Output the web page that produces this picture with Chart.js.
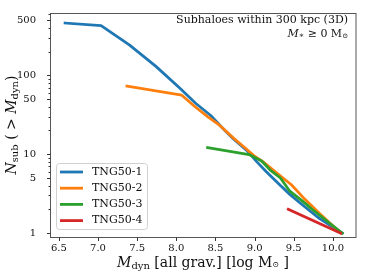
<!DOCTYPE html>
<html>
<head>
<meta charset="utf-8">
<script src="https://cdn.jsdelivr.net/npm/chart.js@4"></script>
<style>
  html, body { margin: 0; padding: 0; background: #fff; }
</style>
</head>
<body>
<canvas id="myChart" width="365" height="278"></canvas>
<script>
const seriesNames = ['TNG50-1', 'TNG50-2', 'TNG50-3', 'TNG50-4'];
const seriesColors = ['#1f77b4', '#ff7f0e', '#2ca02c', '#d62728'];

// log M_dyn and N_sub(>M_dyn)
const tng1X = [6.58, 7.04, 7.40, 7.74, 8.05, 8.25, 8.44, 8.58, 8.73, 8.90, 9.03, 9.15, 9.32, 9.45, 9.62, 9.83, 10.12];
const tng1Y = [460, 428, 243, 130, 68, 44, 31, 22, 15.6, 11.2, 8.0, 6.0, 4.1, 3.1, 2.24, 1.53, 1];
const tng2X = [7.37, 8.07, 8.24, 8.40, 8.56, 8.73, 8.88, 8.99, 9.11, 9.28, 9.47, 9.64, 9.83, 10.10];
const tng2Y = [73, 56, 40, 30, 23, 16, 12, 9.6, 8, 5.8, 4.1, 2.7, 1.77, 1];
const tng3X = [8.40, 8.93, 9.09, 9.20, 9.33, 9.45, 9.60, 9.75, 10.12];
const tng3Y = [12.1, 9.9, 8.2, 6.3, 5.0, 3.4, 2.6, 1.95, 1];
const tng4X = [9.43, 10.10];
const tng4Y = [2, 1];

const xTicks = [6.5, 7.0, 7.5, 8.0, 8.5, 9.0, 9.5, 10.0];
const yTicks = [1, 2, 3, 4, 5, 6, 7, 8, 9, 10, 20, 30, 40, 50, 60, 70, 80, 90, 100, 200, 300, 400, 500, 600];
const yLabels = [1, 5, 10, 50, 100, 500];

const xs = [tng1X, tng2X, tng3X, tng4X];
const ys = [tng1Y, tng2Y, tng3Y, tng4Y];

const SERIF = "'DejaVu Serif', serif";

// draw a run of text pieces with different fonts / offsets
function richText(ctx, parts, x, y, align) {
  let w = 0;
  parts.forEach(p => { ctx.font = p.font; p.w = ctx.measureText(p.t).width; w += p.w; });
  let cx = align === 'right' ? x - w : align === 'center' ? x - w / 2 : x;
  ctx.textAlign = 'left';
  ctx.textBaseline = 'middle';
  parts.forEach(p => {
    ctx.font = p.font;
    ctx.fillText(p.t, cx, y + (p.dy || 0));
    cx += p.w;
  });
}

const decor = {
  id: 'decor',
  afterDraw(chart) {
    const { ctx, chartArea: a, scales: { x, y } } = chart;
    ctx.save();
    // frame
    ctx.strokeStyle = '#555';
    ctx.lineWidth = 1;
    ctx.strokeRect(a.left - 0.5, a.top + 0.5, a.right - a.left + 0.5, a.bottom - a.top);
    // tick marks
    ctx.strokeStyle = '#333';
    ctx.beginPath();
    xTicks.forEach(v => {
      const px = Math.round(x.getPixelForValue(v)) + 0.5;
      ctx.moveTo(px, a.bottom + 0.5); ctx.lineTo(px, a.bottom + 4);
    });
    yTicks.forEach(v => {
      const py = Math.round(y.getPixelForValue(v)) + 0.5;
      const len = yLabels.includes(v) ? 3.5 : 2;
      ctx.moveTo(a.left - 0.5, py); ctx.lineTo(a.left - 0.5 - len, py);
    });
    ctx.stroke();

    ctx.fillStyle = '#111';
    // x tick labels
    ctx.font = '10px ' + SERIF;
    ctx.textAlign = 'center';
    ctx.textBaseline = 'middle';
    xTicks.forEach(v => {
      ctx.fillText(v.toFixed(1), x.getPixelForValue(v), a.bottom + 11);
    });

    // axis titles
    richText(ctx, [
      { t: 'M', font: 'italic 14px ' + SERIF },
      { t: 'dyn', font: '10px ' + SERIF, dy: 3 },
      { t: ' [all grav.] [log M', font: '14px ' + SERIF },
      { t: '\u2299', font: '8px ' + SERIF, dy: 2 },
      { t: ' ]', font: '14px ' + SERIF }
    ], 203, 263, 'center');

    ctx.save();
    ctx.translate(12.5, 125);
    ctx.rotate(-Math.PI / 2);
    richText(ctx, [
      { t: 'N', font: 'italic 14px ' + SERIF },
      { t: 'sub', font: '10px ' + SERIF, dy: 3 },
      { t: ' ( > ', font: '14px ' + SERIF },
      { t: 'M', font: 'italic 14px ' + SERIF },
      { t: 'dyn', font: '10px ' + SERIF, dy: 3 },
      { t: ')', font: '14px ' + SERIF }
    ], 0, 0, 'center');
    ctx.restore();

    // annotation
    richText(ctx, [{ t: 'Subhaloes within 300 kpc (3D)', font: '11px ' + SERIF }], 348, 20, 'right');
    richText(ctx, [
      { t: 'M', font: 'italic 11px ' + SERIF },
      { t: '\u2217', font: '8px ' + SERIF, dy: 2 },
      { t: ' \u2265 0 M', font: '11px ' + SERIF },
      { t: '\u2299', font: '7px ' + SERIF, dy: 2 }
    ], 348, 34, 'right');

    // legend
    const lx = 56, ly = 163, lw = 91, lh = 66;
    ctx.beginPath();
    ctx.roundRect(lx + 0.5, ly + 0.5, lw, lh, 3);
    ctx.fillStyle = 'rgba(255,255,255,0.85)';
    ctx.fill();
    ctx.strokeStyle = '#d0d0d0';
    ctx.stroke();
    chart.data.datasets.forEach((ds, i) => {
      const ry = 172 + i * 16.2;
      ctx.strokeStyle = ds.borderColor;
      ctx.lineWidth = 2.8;
      ctx.beginPath();
      ctx.moveTo(60, ry); ctx.lineTo(83, ry);
      ctx.stroke();
      ctx.fillStyle = '#111';
      richText(ctx, [{ t: ds.label, font: '11px ' + SERIF }], 92, ry, 'left');
    });
    ctx.restore();
  }
};

const datasets = seriesNames.map((name, i) => ({
  label: name,
  data: xs[i].map((v, j) => ({ x: v, y: ys[i][j] })),
  borderColor: seriesColors[i],
  borderWidth: 2.8,
  borderCapStyle: 'square',
  borderJoinStyle: 'round',
  pointRadius: 0,
  tension: 0,
  fill: false,
  order: 4 - i
}));

const ctx = document.getElementById('myChart');
const myChart = new Chart(ctx, {
  type: 'line',
  data: { datasets: datasets },
  options: {
    responsive: false,
    animation: false,
    layout: { padding: { top: 7, right: 9, left: 0, bottom: 0 } },
    plugins: {
      legend: { display: false },
      tooltip: { enabled: false }
    },
    scales: {
      x: {
        type: 'linear',
        min: 6.4,
        max: 10.295,
        afterFit: s => { s.height = 41; },
        afterBuildTicks: s => { s.ticks = xTicks.map(v => ({ value: v })); },
        grid: { display: false },
        border: { display: false },
        ticks: { display: false }
      },
      y: {
        type: 'logarithmic',
        min: 0.893,
        max: 617,
        afterFit: s => { s.width = 51; },
        afterBuildTicks: s => { s.ticks = yTicks.map(v => ({ value: v })); },
        grid: { display: false },
        border: { display: false },
        ticks: {
          autoSkip: false,
          padding: 7,
          color: '#111',
          font: { family: SERIF, size: 10 },
          callback: v => yLabels.includes(v) ? String(v) : ''
        }
      }
    }
  },
  plugins: [decor]
});
</script>
</body>
</html>
